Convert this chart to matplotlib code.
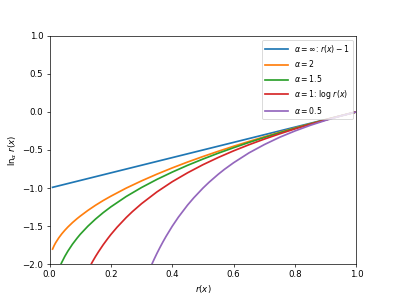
import matplotlib
matplotlib.use('Agg')
from matplotlib import pyplot as plt

# values
labels = [r'$\alpha=\infty$: $r(x)-1$', r'$\alpha=2$', r'$\alpha=1.5$',
          r'$\alpha=1$: $\log\, r(x)$', r'$\alpha=0.5$']

x_inf = [0.01, 1.0]
y_inf = [-0.99, 0.0]

x_a2 = [0.01, 0.015, 0.02, 0.03, 0.04, 0.05, 0.06, 0.075, 0.09, 0.1, 0.125, 0.15,
        0.175, 0.2, 0.25, 0.3, 0.35, 0.4, 0.45, 0.5, 0.55, 0.6, 0.65, 0.7, 0.75,
        0.8, 0.85, 0.9, 0.95, 1.0]
y_a2 = [-1.80, -1.755, -1.717, -1.654, -1.60, -1.553, -1.510, -1.452, -1.40,
        -1.368, -1.293, -1.225, -1.163, -1.106, -1.0, -0.905, -0.817, -0.735,
        -0.658, -0.586, -0.517, -0.451, -0.388, -0.327, -0.268, -0.211, -0.156,
        -0.103, -0.051, 0.0]

x_a15 = [0.03, 0.037, 0.04, 0.05, 0.06, 0.075, 0.09, 0.1, 0.125, 0.15, 0.175, 0.2,
         0.25, 0.3, 0.35, 0.4, 0.45, 0.5, 0.55, 0.6, 0.65, 0.7, 0.75, 0.8, 0.85,
         0.9, 0.95, 1.0]
y_a15 = [-2.07, -2.0, -1.974, -1.895, -1.826, -1.735, -1.656, -1.607, -1.5,
         -1.406, -1.322, -1.246, -1.110, -0.992, -0.886, -0.790, -0.701, -0.619,
         -0.542, -0.470, -0.401, -0.336, -0.274, -0.215, -0.158, -0.104, -0.051, 0.0]

x_log = [0.13, 0.14, 0.15, 0.16, 0.175, 0.19, 0.2, 0.22, 0.25, 0.27, 0.3, 0.35,
         0.4, 0.45, 0.5, 0.55, 0.6, 0.65, 0.7, 0.75, 0.8, 0.85, 0.9, 0.95, 1.0]
y_log = [-2.04, -1.966, -1.897, -1.833, -1.743, -1.661, -1.609, -1.514, -1.386,
         -1.309, -1.204, -1.050, -0.916, -0.799, -0.693, -0.598, -0.511, -0.431,
         -0.357, -0.288, -0.223, -0.163, -0.105, -0.051, 0.0]

x_a05 = [0.32, 0.33, 0.34, 0.35, 0.36, 0.37, 0.38, 0.4, 0.42, 0.45, 0.47, 0.5,
         0.52, 0.55, 0.57, 0.6, 0.65, 0.7, 0.75, 0.8, 0.85, 0.9, 0.95, 1.0]
y_a05 = [-2.125, -2.030, -1.941, -1.857, -1.778, -1.703, -1.632, -1.5, -1.381,
         -1.222, -1.128, -1.0, -0.923, -0.818, -0.754, -0.667, -0.538, -0.429,
         -0.333, -0.25, -0.176, -0.111, -0.053, 0.0]

fig = plt.figure(figsize=(6.4, 4.8), dpi=61.875)
ax = fig.add_subplot(111)
for xs, ys, lab in zip([x_inf, x_a2, x_a15, x_log, x_a05],
                       [y_inf, y_a2, y_a15, y_log, y_a05], labels):
    ax.plot(xs, ys, label=lab, lw=2)
ax.set_xlim(0, 1)
ax.set_ylim(-2, 1)
ax.set_xlabel(r'$r(x)$')
ax.set_ylabel(r'$\ln_\alpha\, r(x)$')
ax.legend(loc='upper right', fontsize=9, handlelength=2.9)
fig.savefig('out.png')
